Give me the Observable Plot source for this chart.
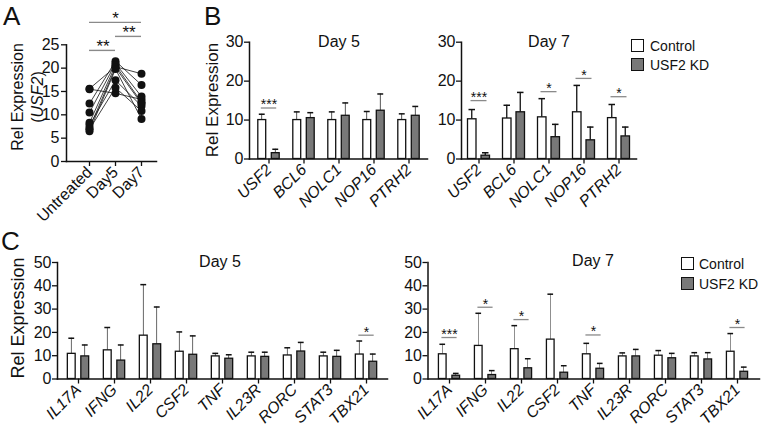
<!DOCTYPE html>
<html><head><meta charset="utf-8">
<script src="https://cdn.jsdelivr.net/npm/d3@7"></script>
<script src="https://cdn.jsdelivr.net/npm/@observablehq/plot@0.6"></script>
<style>
body{margin:0;background:#fff;}
#fig{position:relative;width:762px;height:429px;overflow:hidden;background:#fff;font-family:"Liberation Sans",Arial,sans-serif;color:#111;}
.abs{position:absolute;}
.lbl{position:absolute;transform:translate(-50%,-50%);white-space:nowrap;}
.rot{position:absolute;transform:translate(-50%,-50%) rotate(-90deg);white-space:nowrap;text-align:center;}
.letter{position:absolute;font-size:26px;line-height:26px;}
.box{position:absolute;width:11px;height:11px;border:1.4px solid #111;}
.leg{position:absolute;font-size:14px;transform:translateY(-50%);white-space:nowrap;}
svg{overflow:visible;}
</style></head>
<body><div id="fig"></div>
<script>
// ---------- Panel A data ----------
const aConditions = ["Untreated", "Day5", "Day7"];
const aUntreated = [15.6, 15.5, 12.4, 10.5, 8.3, 7.8, 7.2, 6.9, 6.5];
const aDay5      = [20.3, 14.6, 21.5, 21.0, 20.6, 17.4, 20.1, 15.8, 19.8];
const aDay7      = [18.8, 13.3, 16.4, 13.9, 12.7, 11.9, 12.4, 10.8, 9.1];
const aSigFrom   = ["Untreated", "Day5", "Untreated"];
const aSigTo     = ["Day5", "Day7", "Day7"];
const aSigY      = [23.8, 26.8, 29.8];
const aSigLabels = ["**", "**", "*"];

// ---------- Panel B data ----------
const bGenes = ["USF2", "BCL6", "NOLC1", "NOP16", "PTRH2"];
const bDay5Control    = [10.0, 10.0, 10.0, 10.0, 10.0];
const bDay5ControlErr = [11.5, 12.1, 12.1, 12.2, 11.6];
const bDay5KD         = [1.5, 10.5, 11.1, 12.4, 11.1];
const bDay5KDErr      = [2.5, 11.9, 14.4, 16.7, 13.5];
const bDay5SigGenes = ["USF2"], bDay5SigY = [13.1], bDay5SigLabels = ["***"];
const bDay7Control    = [10.2, 10.4, 10.7, 12.0, 10.5];
const bDay7ControlErr = [12.7, 13.8, 15.5, 18.9, 14.0];
const bDay7KD         = [0.85, 12.0, 5.6, 4.8, 5.8];
const bDay7KDErr      = [1.6, 17.1, 8.9, 8.2, 8.2];
const bDay7SigGenes = ["USF2", "NOLC1", "NOP16", "PTRH2"];
const bDay7SigY = [15.0, 17.3, 20.7, 16.0];
const bDay7SigLabels = ["***", "*", "*", "*"];
const bTicks = [0, 10, 20, 30];

// ---------- Panel C data ----------
const cGenes = ["IL17A", "IFNG", "IL22", "CSF2", "TNF", "IL23R", "RORC", "STAT3", "TBX21"];
const cDay5Control    = [10.8, 12.3, 18.6, 11.7, 9.7, 9.7, 10.1, 9.7, 10.5];
const cDay5ControlErr = [17.5, 22.1, 40.5, 20.2, 11.0, 11.5, 13.4, 11.5, 16.3];
const cDay5KD         = [9.7, 7.9, 14.9, 10.4, 8.7, 9.5, 11.8, 9.5, 7.4];
const cDay5KDErr      = [14.6, 14.6, 30.9, 18.5, 10.4, 11.5, 15.7, 12.3, 10.7];
const cDay5SigGenes = ["TBX21"], cDay5SigY = [18.8], cDay5SigLabels = ["*"];
const cDay7Control    = [10.6, 14.2, 12.8, 16.9, 10.6, 9.7, 10.0, 9.7, 11.7];
const cDay7ControlErr = [14.9, 28.2, 22.9, 36.4, 15.3, 11.2, 12.2, 11.3, 19.5];
const cDay7KD         = [1.4, 1.7, 4.6, 2.7, 4.4, 9.7, 8.9, 8.4, 3.1];
const cDay7KDErr      = [2.4, 3.6, 8.7, 5.7, 6.7, 12.7, 11.0, 11.3, 5.1];
const cDay7SigGenes = ["IL17A", "IFNG", "IL22", "TNF", "TBX21"];
const cDay7SigY = [17.8, 30.8, 25.5, 18.9, 22.1];
const cDay7SigLabels = ["***", "*", "*", "*", "*"];
const cTicks = [0, 10, 20, 30, 40, 50];

const FONT = "'Liberation Sans', Arial, sans-serif";
const KDFILL = "#787878";
const SIGC = "#8a8a8a";
const fig = document.getElementById("fig");

function place(svg, left, top) {
  const d = document.createElement("div");
  d.className = "abs";
  d.style.left = left + "px"; d.style.top = top + "px";
  d.appendChild(svg);
  fig.appendChild(d);
}
function html(cls, left, top, inner, extra) {
  const d = document.createElement("div");
  d.className = cls;
  d.style.left = left + "px"; d.style.top = top + "px";
  d.innerHTML = inner;
  if (extra) Object.assign(d.style, extra);
  fig.appendChild(d);
  return d;
}

// ---------- Panel A ----------
const aLong = [];
aUntreated.forEach((v, i) => {
  aLong.push({donor: i, cond: "Untreated", v});
  aLong.push({donor: i, cond: "Day5", v: aDay5[i]});
  aLong.push({donor: i, cond: "Day7", v: aDay7[i]});
});
const aSig = aSigY.map((y, i) => ({from: aSigFrom[i], to: aSigTo[i], y, label: aSigLabels[i]}));
const A = Plot.plot({
  width: 165, height: 230,
  marginLeft: 66, marginRight: 9, marginTop: 44.3, marginBottom: 69,
  style: {fontFamily: FONT, background: "transparent", color: "#111", maxWidth: "none", overflow: "visible"},
  x: {type: "point", domain: aConditions, padding: 0.7, align: 0.6},
  y: {domain: [0, 25]},
  marks: [
    Plot.line(aLong, {x: "cond", y: "v", z: "donor", stroke: "#111", strokeWidth: 0.8}),
    Plot.dot(aLong, {x: "cond", y: "v", r: 4, fill: "#111"}),
    Plot.ruleY(aSig, {x1: "from", x2: "to", y: "y", stroke: SIGC, strokeWidth: 1.4}),
    Plot.text(aSig.filter(d => d.from !== "Untreated" || d.to !== "Day7"), {x: "from", y: "y", text: "label", dx: 13.5, dy: -4, fontSize: 17}),
    Plot.text(aSig.filter(d => d.from === "Untreated" && d.to === "Day7"), {x: () => "Day5", y: "y", text: "label", dy: -4, fontSize: 17}),
    Plot.frame({anchor: "left", strokeWidth: 1.5}),
    Plot.frame({anchor: "bottom", strokeWidth: 1.5}),
    Plot.axisY({ticks: [0, 5, 10, 15, 20, 25], tickSize: 5, tickPadding: 2, fontSize: 16, label: null, strokeWidth: 1.3}),
    Plot.axisX({tickRotate: -45, tickSize: 5, tickPadding: 3, fontSize: 16, label: null, strokeWidth: 1.3})
  ]
});
place(A, 0, 0);

// ---------- Bar panel helper ----------
function barPanel(p) {
  const {genes, ctrl, ctrlErr, kd, kdErr, sigGenes, sigY, sigLabels, width, height, mL, mR, mT, mB, yMax, ticks, fontSize} = p;
  const n = genes.length;
  const bw = (width - mL - mR) / n;
  const c = bw / 2;
  const rows = genes.map((g, i) => ({gene: g, ctrl: ctrl[i], ctrlErr: ctrlErr[i], kd: kd[i], kdErr: kdErr[i]}));
  const sig = sigGenes.map((g, i) => ({gene: g, y: sigY[i], label: sigLabels[i]}));
  const span = (a, b) => ({insetLeft: c + a, insetRight: bw - (c + b)});
  return Plot.plot({
    width, height, marginLeft: mL, marginRight: mR, marginTop: mT, marginBottom: mB,
    style: {fontFamily: FONT, background: "transparent", color: "#111", maxWidth: "none", overflow: "visible"},
    x: {type: "band", domain: genes, padding: 0},
    y: {domain: [0, yMax]},
    marks: [
      Plot.barY(rows, {x: "gene", y1: "ctrl", y2: "ctrlErr", fill: "#111", ...span(-7.4, -6.1)}),
      Plot.barY(rows, {x: "gene", y1: "kd", y2: "kdErr", fill: "#111", ...span(6.1, 7.4)}),
      Plot.tickY(rows, {x: "gene", y: "ctrlErr", stroke: "#111", strokeWidth: 1.5, ...span(-10, -3.5)}),
      Plot.tickY(rows, {x: "gene", y: "kdErr", stroke: "#111", strokeWidth: 1.5, ...span(3.5, 10)}),
      Plot.barY(rows, {x: "gene", y1: 0, y2: "ctrl", fill: "white", stroke: "#111", strokeWidth: 1.3, ...span(-11, -2.5)}),
      Plot.barY(rows, {x: "gene", y1: 0, y2: "kd", fill: KDFILL, stroke: "#111", strokeWidth: 1.3, ...span(2.5, 11)}),
      Plot.tickY(sig, {x: "gene", y: "y", stroke: SIGC, strokeWidth: 1.3, ...span(-8, 8)}),
      Plot.text(sig, {x: "gene", y: "y", text: "label", dy: -3, fontSize: 14}),
      Plot.frame({anchor: "left", strokeWidth: 1.5}),
      Plot.frame({anchor: "bottom", strokeWidth: 1.5}),
      Plot.axisY({ticks, tickSize: 5, tickPadding: 1, fontSize, label: null, strokeWidth: 1.3}),
      Plot.axisX({tickRotate: -45, tickSize: 5, tickPadding: 3, fontSize, fontStyle: "italic", label: null, strokeWidth: 1.3})
    ]
  });
}

place(barPanel({genes: bGenes, ctrl: bDay5Control, ctrlErr: bDay5ControlErr, kd: bDay5KD, kdErr: bDay5KDErr,
  sigGenes: bDay5SigGenes, sigY: bDay5SigY, sigLabels: bDay5SigLabels,
  width: 240, height: 215, mL: 54, mR: 8, mT: 41.7, mB: 56.5, yMax: 30, ticks: bTicks, fontSize: 16}), 195, 0);
place(barPanel({genes: bGenes, ctrl: bDay7Control, ctrlErr: bDay7ControlErr, kd: bDay7KD, kdErr: bDay7KDErr,
  sigGenes: bDay7SigGenes, sigY: bDay7SigY, sigLabels: bDay7SigLabels,
  width: 240, height: 215, mL: 56, mR: 9, mT: 41.7, mB: 56.5, yMax: 30, ticks: bTicks, fontSize: 16}), 405, 0);
place(barPanel({genes: cGenes, ctrl: cDay5Control, ctrlErr: cDay5ControlErr, kd: cDay5KD, kdErr: cDay5KDErr,
  sigGenes: cDay5SigGenes, sigY: cDay5SigY, sigLabels: cDay5SigLabels,
  width: 395, height: 199, mL: 57, mR: 8, mT: 32, mB: 50.5, yMax: 50, ticks: cTicks, fontSize: 16}), 0, 230);
place(barPanel({genes: cGenes, ctrl: cDay7Control, ctrlErr: cDay7ControlErr, kd: cDay7KD, kdErr: cDay7KDErr,
  sigGenes: cDay7SigGenes, sigY: cDay7SigY, sigLabels: cDay7SigLabels,
  width: 382, height: 199, mL: 47.5, mR: 3, mT: 32, mB: 50.5, yMax: 50, ticks: cTicks, fontSize: 16}), 380, 230);

// ---------- Text: letters, titles, axis labels, legends ----------
html("letter", 3, 3, "A");
html("letter", 204, 3, "B");
html("letter", 1, 228, "C");

html("rot", 28, 97, "Rel Expression<br>(<i>USF2</i>)", {fontSize: "16px", lineHeight: "20px"});
html("rot", 213, 100, "Rel Expression", {fontSize: "17px"});
html("rot", 18, 318, "Rel Expression", {fontSize: "18px"});

html("lbl", 339, 42, "Day 5", {fontSize: "16px"});
html("lbl", 549, 42, "Day 7", {fontSize: "16px"});
html("lbl", 220, 262, "Day 5", {fontSize: "16px"});
html("lbl", 593, 261, "Day 7", {fontSize: "16px"});

html("box", 631, 39, "", {background: "#fff"});
html("leg", 650, 45.5, "Control");
html("box", 631, 58, "", {background: KDFILL});
html("leg", 650, 64.5, "USF2 KD");
html("box", 681, 257, "", {background: "#fff"});
html("leg", 699, 263.5, "Control");
html("box", 681, 277, "", {background: KDFILL});
html("leg", 699, 283.5, "USF2 KD");
</script>
</body></html>
